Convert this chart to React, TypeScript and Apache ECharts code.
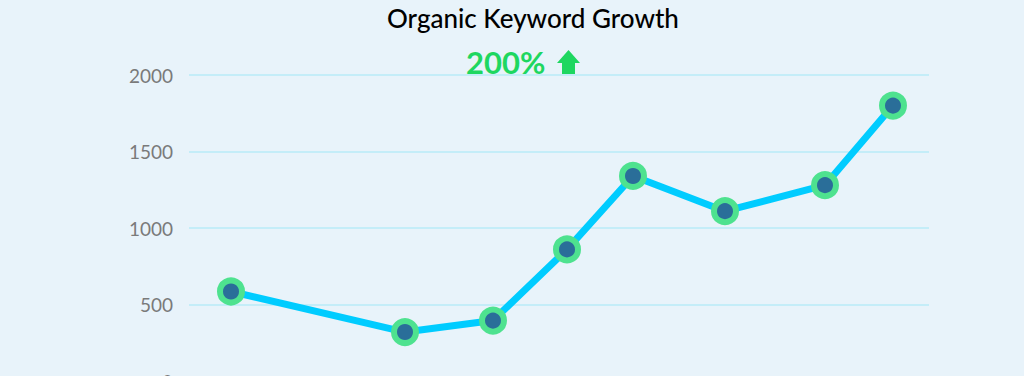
import React, { useEffect, useRef } from "react";
import * as echarts from "echarts";

const chartTitle = "Organic Keyword Growth";
const growthLabel = "200%";
// Days since start for each measurement (irregular spacing)
const dayValues = [21, 108, 152, 189, 222, 268, 318, 352];
const keywordValues = [585, 320, 395, 860, 1340, 1110, 1280, 1800];
const yTicks = [0, 500, 1000, 1500, 2000];

export default function App() {
  const ref = useRef<HTMLDivElement>(null);
  useEffect(() => {
    if (!ref.current) return;
    const chart = echarts.init(ref.current, null, { renderer: "svg" });
    chart.setOption({
      animation: false,
      backgroundColor: "#e8f3fa",
      title: {
        text: chartTitle,
        left: 382,
        top: 0,
        textStyle: {
          fontFamily: "Lato",
          fontSize: 26,
          fontWeight: 500,
          color: "#000000",
        },
      },
      graphic: [
        {
          type: "text",
          left: 466,
          top: 46,
          style: {
            text: growthLabel,
            font: "bold 31px Lato",
            fill: "#1ed760",
          },
        },
        {
          type: "polygon",
          shape: {
            points: [
              [557, 63],
              [568.5, 50],
              [580, 63],
              [575, 63],
              [575, 74],
              [562, 74],
              [562, 63],
            ],
          },
          style: { fill: "#1ed760" },
        },
      ],
      grid: {
        left: 189,
        right: 95,
        top: 75,
        bottom: -5,
        containLabel: false,
        outerBoundsMode: "none",
      },
      xAxis: {
        type: "value",
        min: 0,
        max: 370,
        show: false,
      },
      yAxis: {
        type: "value",
        min: yTicks[0],
        max: yTicks[yTicks.length - 1],
        interval: 500,
        axisLine: { show: false },
        axisTick: { show: false },
        axisLabel: {
          color: "#7a7a7a",
          fontSize: 19,
          fontFamily: "Lato",
          margin: 16,
          formatter: (v: number) => String(v),
        },
        splitLine: { lineStyle: { color: "#b8ebf7", width: 1.5 } },
      },
      series: [
        {
          type: "line",
          data: dayValues.map((d, i) => [d, keywordValues[i]]),
          lineStyle: { color: "#00ccff", width: 7 },
          symbol: "circle",
          symbolSize: 22,
          itemStyle: {
            color: "#2a6e99",
            borderColor: "#4ee28f",
            borderWidth: 6,
          },
          z: 3,
        },
      ],
    });
    return () => chart.dispose();
  }, []);
  return (
    <div
      ref={ref}
      style={{ position: "fixed", left: 0, top: 0, width: 1024, height: 376 }}
    />
  );
}
